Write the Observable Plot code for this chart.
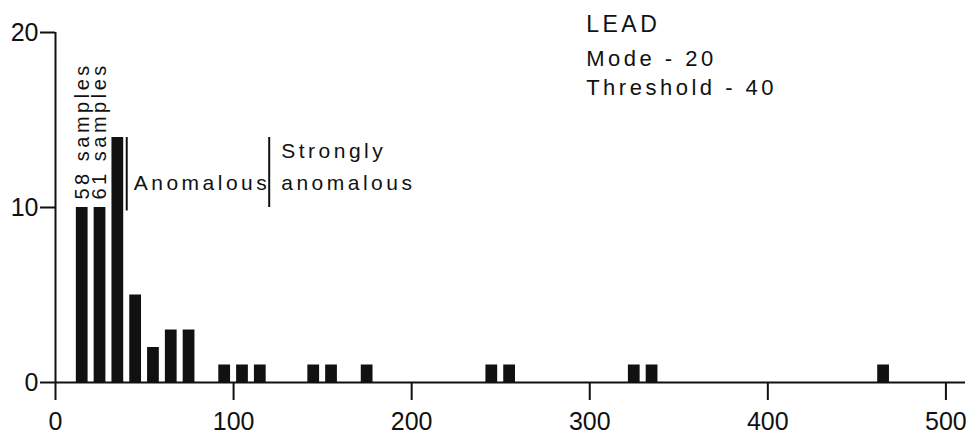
<!DOCTYPE html>
<html>
<head>
<meta charset="utf-8">
<script src="https://cdn.jsdelivr.net/npm/d3@7"></script>
<script src="https://cdn.jsdelivr.net/npm/@observablehq/plot@0.6"></script>
<style>
  html, body { margin: 0; padding: 0; background: #fff; }
  #chart svg text { letter-spacing: 3.5px; }
  #chart svg g[aria-label$="tick label"] text { letter-spacing: 0; }
</style>
</head>
<body>
<div id="chart"></div>
<script>
// Lead concentration classes (bin centres) and number of samples in each
const binCenters = [15, 25, 35, 45, 55, 65, 75, 95, 105, 115, 145, 155, 175, 245, 255, 325, 335, 465];
const sampleCounts = [58, 61, 14, 5, 2, 3, 3, 1, 1, 1, 1, 1, 1, 1, 1, 1, 1, 1];
const xTicks = [0, 100, 200, 300, 400, 500];
const yTicks = [0, 10, 20];
const yMax = 20;
const offScaleCap = 10;          // off-scale bars are drawn truncated
const anomalousThreshold = 40;
const strongThreshold = 120;
const headerLines = ["LEAD", "Mode - 20", "Threshold - 40"];
const zoneLabels = ["Anomalous", "Strongly\nanomalous"];

const bars = binCenters.map((c, i) => ({center: c, count: sampleCounts[i]}));
const offScale = bars.filter(d => d.count > yMax);
const halfWidth = 3.3;
const ink = "#111";

const chart = Plot.plot({
  width: 977,
  height: 439,
  marginLeft: 55,
  marginRight: 12,
  marginTop: 32,
  marginBottom: 57,
  style: {fontFamily: "'Liberation Sans', Arial, sans-serif", background: "#fff", color: ink, overflow: "visible"},
  x: {domain: [0, 511]},
  y: {domain: [0, yMax]},
  marks: [
    Plot.rectY(bars, {
      x1: d => d.center - halfWidth,
      x2: d => d.center + halfWidth,
      y: d => d.count > yMax ? offScaleCap : d.count,
      fill: ink
    }),
    Plot.ruleY([0], {stroke: ink, strokeWidth: 2}),
    Plot.ruleX([0], {y1: 0, y2: yMax, stroke: ink, strokeWidth: 2}),
    Plot.axisX({ticks: xTicks, tickSize: 18, tickPadding: 12, fontSize: 25, strokeWidth: 2, stroke: ink, fill: ink, label: null}),
    Plot.axisY({ticks: yTicks, tickSize: 15, tickPadding: 2, fontSize: 25, strokeWidth: 2, stroke: ink, fill: ink, label: null}),
    // off-scale labels
    Plot.text(offScale, {
      x: "center", y: () => offScaleCap, text: d => `${d.count} samples`,
      rotate: -90, textAnchor: "start", lineAnchor: "middle", dy: -8,
      fontSize: 20, fill: ink
    }),
    // threshold markers
    Plot.ruleX([anomalousThreshold], {y1: 9.8, y2: 14, stroke: ink, strokeWidth: 2}),
    Plot.ruleX([strongThreshold], {y1: 10, y2: 14, stroke: ink, strokeWidth: 2}),
    Plot.text([zoneLabels[0]], {x: anomalousThreshold, y: 11.37, dx: 7, text: d => d, textAnchor: "start", fontSize: 21, fill: ink}),
    Plot.text([zoneLabels[1]], {x: strongThreshold, y: 12.5, dx: 12, text: d => d, textAnchor: "start", fontSize: 21, lineHeight: 1.55, fill: ink}),
    // header
    Plot.text([headerLines[0]], {x: 298, y: 20.45, text: d => d, textAnchor: "start", fontSize: 23, fill: ink}),
    Plot.text([headerLines[1]], {x: 298, y: 18.5, text: d => d, textAnchor: "start", fontSize: 22, fill: ink}),
    Plot.text([headerLines[2]], {x: 298, y: 16.85, text: d => d, textAnchor: "start", fontSize: 22, fill: ink})
  ]
});
document.getElementById("chart").appendChild(chart);
</script>
</body>
</html>
